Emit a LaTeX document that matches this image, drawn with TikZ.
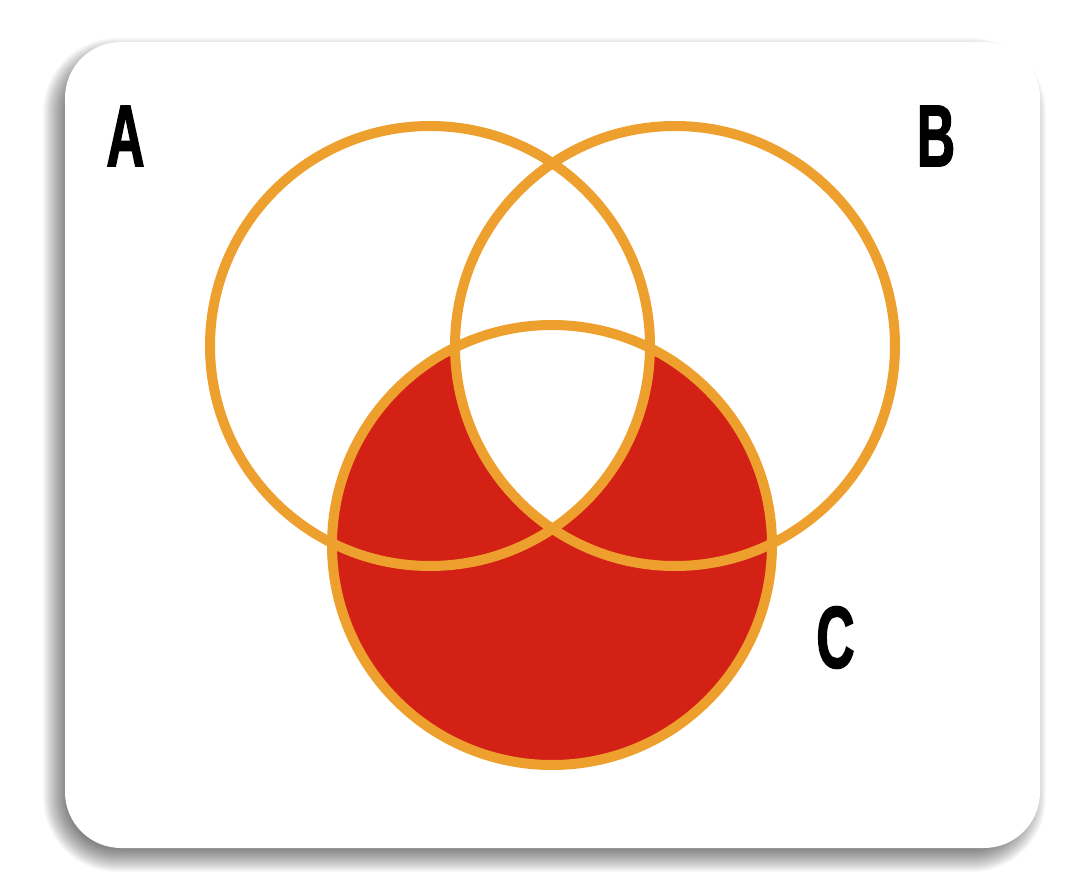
\documentclass[tikz,border=0pt]{standalone}
\usepackage{fontspec}
\setmainfont{Liberation Sans}
\newfontfamily\labelfont[FakeStretch=0.6,FakeBold=1.5]{Liberation Sans Bold}
\definecolor{ring}{HTML}{EEA02E}
\definecolor{fillred}{HTML}{D32116}
\tikzset{
  ringline/.style={draw=ring, line width=10pt},
  setlabel/.style={font=\labelfont\fontsize{88}{88}\selectfont, text=black, inner sep=0pt},
  cardface/.style={fill=white, draw=none, rounded corners=56pt},
  shadowlayer/.style={fill=black, fill opacity=0.024, draw=none}
}
\begin{document}
\begin{tikzpicture}[x=1pt,y=-1pt]
\useasboundingbox (0,0) rectangle (1080,890);
\fill[white] (0,0) rectangle (1080,890);
% soft shadow
\foreach \i in {0,1,...,24}{
  \fill[shadowlayer, rounded corners={50pt+\i pt}] (65-8-\i+10,42+10-\i+10) rectangle (1040-8+\i-10,848+10+\i-10);
}
\fill[cardface] (65,42) rectangle (1040,848);
\coordinate (cA) at (430,346);
\coordinate (cB) at (675,346);
\coordinate (cC) at (552,545);
\fill[fillred] (cC) circle (220);
\begin{scope}
  \clip (cA) circle (220);
  \clip (cC) circle (220);
  \fill[white] (cB) circle (220);
\end{scope}
\draw[ringline] (cA) circle (220);
\draw[ringline] (cB) circle (220);
\draw[ringline] (cC) circle (220);
\node[setlabel] (lA) at (125.5,136) {A};
\node[setlabel] (lB) at (936,136) {B};
\node[setlabel] (lC) at (835.5,637.5) {C};
\end{tikzpicture}
\end{document}
